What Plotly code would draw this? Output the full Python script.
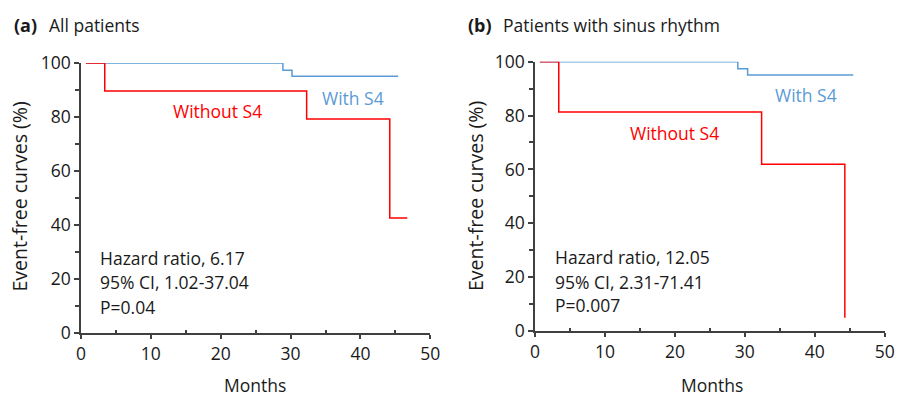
import plotly.graph_objects as go

W, H = 909, 396

# Data (months, event-free %)
a_with_x = [0.7, 28.9, 30.2, 45.4]
a_with_y = [100, 97.3, 95.1, 95.1]
a_without_x = [0.7, 3.4, 32.3, 44.2, 46.7]
a_without_y = [100, 89.6, 79.3, 42.6, 42.6]

b_with_x = [0.7, 29.0, 30.4, 45.5]
b_with_y = [100, 97.4, 95.1, 95.1]
b_without_x = [0.7, 3.4, 32.4, 44.3]
b_without_y = [100, 81.3, 61.9, 4.9]

a_stats = ["Hazard ratio, 6.17", "95% CI, 1.02-37.04", "P=0.04"]
b_stats = ["Hazard ratio, 12.05", "95% CI, 2.31-71.41", "P=0.007"]

BLUE = "#5B9BD5"
RED = "#FF0000"
AX = "#404040"
TXT = "#1a1a1a"
FONT = "Open Sans"
FS = 17.5

fig = go.Figure()

def px(x):
    return x / W

def py(y):
    return 1 - y / H

# panel a
fig.add_trace(go.Scatter(x=a_with_x, y=a_with_y, mode="lines", line=dict(color=BLUE, width=1.5, shape="hv"), xaxis="x", yaxis="y", showlegend=False))
fig.add_trace(go.Scatter(x=a_without_x, y=a_without_y, mode="lines", line=dict(color=RED, width=1.5, shape="hv"), xaxis="x", yaxis="y", showlegend=False))
# panel b
fig.add_trace(go.Scatter(x=b_with_x, y=b_with_y, mode="lines", line=dict(color=BLUE, width=1.5, shape="hv"), xaxis="x2", yaxis="y2", showlegend=False))
fig.add_trace(go.Scatter(x=b_without_x, y=b_without_y, mode="lines", line=dict(color=RED, width=1.5, shape="hv"), xaxis="x2", yaxis="y2", showlegend=False))

def xax(domain, anchor):
    return dict(domain=domain, anchor=anchor, range=[0, 50], tickvals=[0, 10, 20, 30, 40, 50],
                showline=True, linecolor=AX, linewidth=1.5, ticks="outside", ticklen=4, tickwidth=1.5,
                tickcolor=AX, showgrid=False, zeroline=False, automargin=False,
                tickfont=dict(family=FONT, size=FS, color=TXT),
                minor=dict(tickvals=[5, 15, 25, 35, 45], ticks="inside", ticklen=3, tickwidth=1.5, tickcolor=AX, showgrid=False),
                fixedrange=True)

def yax(domain, anchor):
    return dict(domain=domain, anchor=anchor, range=[0, 100], tickvals=[0, 20, 40, 60, 80, 100],
                showline=True, linecolor=AX, linewidth=1.5, ticks="outside", ticklen=5, tickwidth=1.5,
                tickcolor=AX, showgrid=False, zeroline=False, automargin=False,
                tickfont=dict(family=FONT, size=FS, color=TXT),
                minor=dict(tickvals=[10, 30, 50, 70, 90], ticks="outside", ticklen=4, tickwidth=1.5, tickcolor=AX, showgrid=False),
                fixedrange=True)

fig.update_layout(
    width=W, height=H, margin=dict(l=0, r=0, t=0, b=0, autoexpand=False),
    paper_bgcolor="white", plot_bgcolor="white",
    font=dict(family=FONT, size=FS, color=TXT),
    xaxis=xax([px(81), px(430.3)], "y"),
    yaxis=yax([py(333), py(63)], "x"),
    xaxis2=xax([px(535), px(884.7)], "y2"),
    yaxis2=yax([py(331), py(61.7)], "x2"),
)

ann = []

def label(text, x, y, xref, yref, color=TXT, xanchor="center", size=FS, angle=0):
    ann.append(dict(text=text, x=x, y=y, xref=xref, yref=yref, showarrow=False, xanchor=xanchor,
                    yanchor="middle", textangle=angle, font=dict(family=FONT, size=size, color=color)))

# panel titles
label("<b>(a)</b>", px(12), py(25), "paper", "paper", xanchor="left", size=18)
label("All patients", px(47), py(25), "paper", "paper", xanchor="left", size=17.5)
label("<b>(b)</b>", px(466), py(25), "paper", "paper", xanchor="left", size=18)
label("Patients with sinus rhythm", px(501), py(25), "paper", "paper", xanchor="left", size=17.5)

# curve labels
label("With S4", 39.0, 87.1, "x", "y", color=BLUE)
label("Without S4", 19.5, 82.2, "x", "y", color=RED)
label("With S4", 38.8, 87.6, "x2", "y2", color=BLUE)
label("Without S4", 19.96, 73.4, "x2", "y2", color=RED)

# stats
for t, yv in zip(a_stats, [27.9, 18.9, 9.7]):
    label(t, 2.5, yv, "x", "y", xanchor="left")
for t, yv in zip(b_stats, [27.6, 18.3, 9.65]):
    label(t, 2.55, yv, "x2", "y2", xanchor="left")

# axis titles
label("Months", px(254.5), py(385), "paper", "paper")
label("Months", px(711.7), py(385), "paper", "paper")
label("Event-free curves (%)", px(19.5), py(197), "paper", "paper", size=19.5, angle=-90)
label("Event-free curves (%)", px(475), py(196), "paper", "paper", size=19.5, angle=-90)

fig.update_layout(annotations=ann)
fig.write_html("out.html")
